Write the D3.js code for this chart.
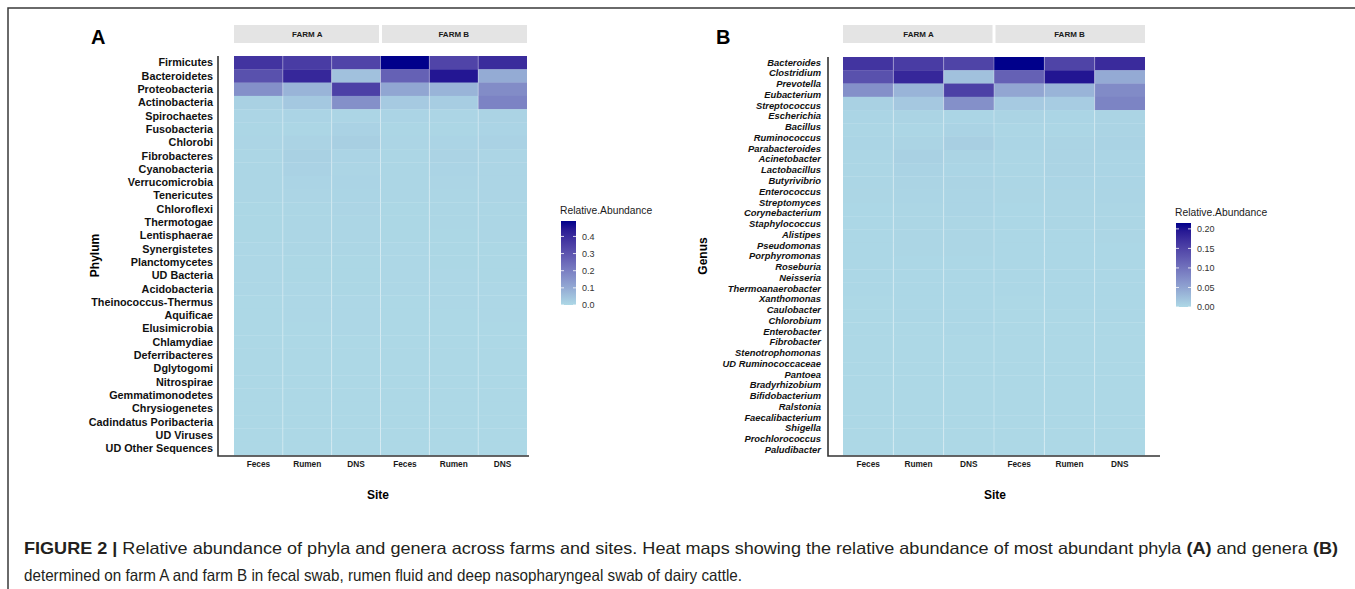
<!DOCTYPE html>
<html>
<head>
<meta charset="utf-8">
<script src="https://cdn.jsdelivr.net/npm/d3@7"></script>
<style>
  html, body { margin: 0; padding: 0; background: #fff; }
  svg text { font-family: "Liberation Sans", Arial, Helvetica, sans-serif; }
  svg text.caption { font-family: "Liberation Sans Narrow", "Liberation Sans", Arial, sans-serif; }
</style>
</head>
<body>
<div id="chart"></div>
<script>
// Columns: farm x site
const farms = ['FARM A', 'FARM B'];
const sites = ['Feces', 'Rumen', 'DNS'];

// Panel A rows (phyla), top to bottom
const phyla = [
  'Firmicutes', 'Bacteroidetes', 'Proteobacteria', 'Actinobacteria', 'Spirochaetes',
  'Fusobacteria', 'Chlorobi', 'Fibrobacteres', 'Cyanobacteria', 'Verrucomicrobia',
  'Tenericutes', 'Chloroflexi', 'Thermotogae', 'Lentisphaerae', 'Synergistetes',
  'Planctomycetes', 'UD Bacteria', 'Acidobacteria', 'Theinococcus-Thermus', 'Aquificae',
  'Elusimicrobia', 'Chlamydiae', 'Deferribacteres', 'Dglytogomi', 'Nitrospirae',
  'Gemmatimonodetes', 'Chrysiogenetes', 'Cadindatus Poribacteria', 'UD Viruses',
  'UD Other Sequences'
];

// Relative abundance per phylum: [A Feces, A Rumen, A DNS, B Feces, B Rumen, B DNS]
const phylumValues = [
  [0.38, 0.36, 0.34, 0.49, 0.34, 0.40],
  [0.31, 0.41, 0.05, 0.27, 0.45, 0.10],
  [0.16, 0.08, 0.35, 0.11, 0.08, 0.17],
  [0.015, 0.035, 0.16, 0.03, 0.025, 0.19],
  [0.006, 0.008, 0.006, 0.008, 0.006, 0.010],
  [0.004, 0.005, 0.012, 0.004, 0.004, 0.008],
  [0.006, 0.010, 0.020, 0.006, 0.008, 0.012],
  [0.005, 0.015, 0.008, 0.004, 0.010, 0.006],
  [0.004, 0.012, 0.006, 0.004, 0.008, 0.006],
  [0.004, 0.008, 0.008, 0.005, 0.006, 0.006],
  [0.004, 0.006, 0.007, 0.004, 0.005, 0.006],
  [0.003, 0.005, 0.006, 0.003, 0.004, 0.005],
  [0.003, 0.004, 0.005, 0.003, 0.004, 0.004],
  [0.003, 0.004, 0.004, 0.003, 0.003, 0.004],
  [0.002, 0.004, 0.004, 0.002, 0.003, 0.003],
  [0.002, 0.003, 0.003, 0.002, 0.003, 0.003],
  [0.002, 0.003, 0.003, 0.002, 0.002, 0.003],
  [0.002, 0.002, 0.003, 0.002, 0.002, 0.002],
  [0.001, 0.002, 0.002, 0.001, 0.002, 0.002],
  [0.001, 0.002, 0.002, 0.001, 0.001, 0.002],
  [0.001, 0.001, 0.002, 0.001, 0.001, 0.001],
  [0.001, 0.001, 0.001, 0.001, 0.001, 0.001],
  [0.001, 0.001, 0.001, 0.001, 0.001, 0.001],
  [0.001, 0.001, 0.001, 0.000, 0.001, 0.001],
  [0.000, 0.001, 0.001, 0.000, 0.000, 0.001],
  [0.000, 0.000, 0.001, 0.000, 0.000, 0.000],
  [0.000, 0.000, 0.000, 0.000, 0.000, 0.000],
  [0.000, 0.000, 0.000, 0.000, 0.000, 0.000],
  [0.000, 0.000, 0.000, 0.000, 0.000, 0.000],
  [0.000, 0.000, 0.000, 0.000, 0.000, 0.000]
];

// Panel B labels (genera), top to bottom
const genera = [
  'Bacteroides', 'Clostridium', 'Prevotella', 'Eubacterium', 'Streptococcus',
  'Escherichia', 'Bacillus', 'Ruminococcus', 'Parabacteroides', 'Acinetobacter',
  'Lactobacillus', 'Butyrivibrio', 'Enterococcus', 'Streptomyces', 'Corynebacterium',
  'Staphylococcus', 'Alistipes', 'Pseudomonas', 'Porphyromonas', 'Roseburia',
  'Neisseria', 'Thermoanaerobacter', 'Xanthomonas', 'Caulobacter', 'Chlorobium',
  'Enterobacter', 'Fibrobacter', 'Stenotrophomonas', 'UD Ruminococcaceae', 'Pantoea',
  'Bradyrhizobium', 'Bifidobacterium', 'Ralstonia', 'Faecalibacterium', 'Shigella',
  'Prochlorococcus', 'Paludibacter'
];

// Panel B tiles as printed (the tile grid has as many bands as panel A)
const genusTileValues = [
  [0.167, 0.158, 0.150, 0.215, 0.150, 0.176],
  [0.136, 0.180, 0.022, 0.119, 0.198, 0.044],
  [0.070, 0.035, 0.154, 0.048, 0.035, 0.075],
  [0.007, 0.015, 0.070, 0.013, 0.011, 0.083],
  [0.003, 0.004, 0.003, 0.004, 0.003, 0.004],
  [0.002, 0.002, 0.005, 0.002, 0.002, 0.004],
  [0.003, 0.004, 0.009, 0.003, 0.004, 0.005],
  [0.002, 0.007, 0.004, 0.002, 0.004, 0.003],
  [0.002, 0.005, 0.003, 0.002, 0.004, 0.003],
  [0.002, 0.004, 0.004, 0.002, 0.003, 0.003],
  [0.002, 0.003, 0.003, 0.002, 0.002, 0.003],
  [0.001, 0.002, 0.003, 0.001, 0.002, 0.002],
  [0.001, 0.002, 0.002, 0.001, 0.002, 0.002],
  [0.001, 0.002, 0.002, 0.001, 0.001, 0.002],
  [0.001, 0.002, 0.002, 0.001, 0.001, 0.001],
  [0.001, 0.001, 0.001, 0.001, 0.001, 0.001],
  [0.001, 0.001, 0.001, 0.001, 0.001, 0.001],
  [0.001, 0.001, 0.001, 0.001, 0.001, 0.001],
  [0.000, 0.001, 0.001, 0.000, 0.001, 0.001],
  [0.000, 0.001, 0.001, 0.000, 0.000, 0.001],
  [0.000, 0.000, 0.001, 0.000, 0.000, 0.000],
  [0.000, 0.000, 0.000, 0.000, 0.000, 0.000],
  [0.000, 0.000, 0.000, 0.000, 0.000, 0.000],
  [0.000, 0.000, 0.000, 0.000, 0.000, 0.000],
  [0.000, 0.000, 0.000, 0.000, 0.000, 0.000],
  [0.000, 0.000, 0.000, 0.000, 0.000, 0.000],
  [0.000, 0.000, 0.000, 0.000, 0.000, 0.000],
  [0.000, 0.000, 0.000, 0.000, 0.000, 0.000],
  [0.000, 0.000, 0.000, 0.000, 0.000, 0.000],
  [0.000, 0.000, 0.000, 0.000, 0.000, 0.000]
];

const phylumLegendTicks = [0, 0.1, 0.2, 0.3, 0.4];
const genusLegendTicks = [0, 0.05, 0.10, 0.15, 0.20];

const W = 1355, H = 589;
const svg = d3.select('#chart').append('svg')
  .attr('width', W)
  .attr('height', H);

svg.append('rect').attr('width', W).attr('height', H).attr('fill', '#fff');

// Frame (top and left rule)
svg.append('path')
  .attr('d', `M8,${H} V8 H${W}`)
  .attr('fill', 'none')
  .attr('stroke', '#3a3a3a')
  .attr('stroke-width', 1.5);

const columns = [];
farms.forEach(f => sites.forEach(s => columns.push(f + '|' + s)));

function drawPanel(opts) {
  const { letter, letterX, heat, axisX, axisXEnd, labels, values, vmax,
          labelX, italic, labelSize, yTitle, yTitleX, siteX, legend, legendTicks, legendFmt } = opts;

  const g = svg.append('g');

  const x = d3.scaleBand().domain(columns).range([heat.x0, heat.x1]);
  const yTile = d3.scaleBand().domain(d3.range(values.length)).range([heat.y0, heat.y1]);
  const yLab = d3.scaleBand().domain(labels).range([heat.y0, heat.y1]);

  const color = d3.scaleLinear()
    .domain([0, vmax])
    .range(['#add8e6', '#00008b'])
    .interpolate(d3.interpolateLab)
    .clamp(true);

  // panel letter
  g.append('text')
    .attr('x', letterX).attr('y', 44)
    .attr('font-size', 20).attr('font-weight', 'bold')
    .attr('fill', '#000')
    .text(letter);

  // facet strips
  farms.forEach(f => {
    const xs = x(f + '|' + sites[0]);
    const xe = x(f + '|' + sites[sites.length - 1]) + x.bandwidth();
    g.append('rect')
      .attr('x', xs + (f === farms[1] ? 1.5 : 0))
      .attr('y', 25)
      .attr('width', xe - xs - 1.5)
      .attr('height', 18)
      .attr('fill', '#e4e4e4');
    g.append('text')
      .attr('x', (xs + xe) / 2).attr('y', 37)
      .attr('text-anchor', 'middle')
      .attr('font-size', 8).attr('font-weight', 'bold')
      .attr('fill', '#1a1a1a')
      .text(f);
  });

  // tiles
  const cells = [];
  values.forEach((row, i) => row.forEach((v, j) => cells.push({ i, col: columns[j], v })));
  g.append('g').selectAll('rect')
    .data(cells)
    .enter().append('rect')
    .attr('x', d => x(d.col))
    .attr('y', d => yTile(d.i))
    .attr('width', x.bandwidth())
    .attr('height', yTile.bandwidth() + 0.3)
    .attr('fill', d => color(d.v));

  // faint column separators
  g.append('g').selectAll('line')
    .data(columns.slice(1))
    .enter().append('line')
    .attr('x1', d => x(d)).attr('x2', d => x(d))
    .attr('y1', heat.y0).attr('y2', heat.y1)
    .attr('stroke', 'rgba(255,255,255,0.4)')
    .attr('stroke-width', 0.8);

  // axis lines
  g.append('path')
    .attr('d', `M${axisX},${heat.y0} V${heat.y1 + 1} H${axisXEnd}`)
    .attr('fill', 'none')
    .attr('stroke', '#333')
    .attr('stroke-width', 1.6);

  // row labels
  g.append('g').selectAll('text')
    .data(labels)
    .enter().append('text')
    .attr('x', labelX)
    .attr('y', d => yLab(d) + yLab.bandwidth() / 2)
    .attr('dy', '0.35em')
    .attr('text-anchor', 'end')
    .attr('font-size', labelSize)
    .attr('font-weight', 'bold')
    .attr('font-style', italic ? 'italic' : 'normal')
    .attr('fill', '#111')
    .text(d => d);

  // x tick labels
  g.append('g').selectAll('text')
    .data(columns)
    .enter().append('text')
    .attr('x', d => x(d) + x.bandwidth() / 2)
    .attr('y', heat.y1 + 12)
    .attr('text-anchor', 'middle')
    .attr('font-size', 8.3).attr('font-weight', 'bold')
    .attr('fill', '#1a1a1a')
    .text(d => d.split('|')[1]);

  // axis titles
  g.append('text')
    .attr('transform', `translate(${yTitleX},${(heat.y0 + heat.y1) / 2}) rotate(-90)`)
    .attr('text-anchor', 'middle')
    .attr('font-size', 12).attr('font-weight', 'bold')
    .attr('fill', '#000')
    .text(yTitle);

  g.append('text')
    .attr('x', siteX).attr('y', 499)
    .attr('text-anchor', 'middle')
    .attr('font-size', 12).attr('font-weight', 'bold')
    .attr('fill', '#000')
    .text('Site');

  // colour bar legend
  const lg = g.append('g');
  lg.append('text')
    .attr('x', legend.x - 1).attr('y', legend.top - 7)
    .attr('font-size', 10.3)
    .attr('fill', '#1a1a1a')
    .text('Relative.Abundance');

  const gradId = 'grad' + letter;
  const grad = svg.append('defs').append('linearGradient')
    .attr('id', gradId)
    .attr('x1', 0).attr('y1', 1).attr('x2', 0).attr('y2', 0);
  d3.range(0, 1.0001, 0.1).forEach(t => {
    grad.append('stop')
      .attr('offset', t)
      .attr('stop-color', color(t * vmax));
  });

  const ly = d3.scaleLinear().domain([0, vmax]).range([legend.bottom, legend.top]);
  lg.append('rect')
    .attr('x', legend.x).attr('y', legend.top)
    .attr('width', legend.w).attr('height', legend.bottom - legend.top)
    .attr('fill', `url(#${gradId})`);

  lg.selectAll('.tk')
    .data(legendTicks)
    .enter().append('g')
    .each(function (d) {
      const t = d3.select(this);
      const yy = ly(d);
      t.append('line')
        .attr('x1', legend.x).attr('x2', legend.x + 3)
        .attr('y1', yy).attr('y2', yy)
        .attr('stroke', 'rgba(255,255,255,0.8)');
      t.append('line')
        .attr('x1', legend.x + legend.w - 3).attr('x2', legend.x + legend.w)
        .attr('y1', yy).attr('y2', yy)
        .attr('stroke', 'rgba(255,255,255,0.8)');
      t.append('text')
        .attr('x', legend.x + legend.w + 6)
        .attr('y', yy)
        .attr('dy', '0.35em')
        .attr('font-size', 9)
        .attr('fill', '#333')
        .text(legendFmt(d));
    });
}

drawPanel({
  letter: 'A', letterX: 91,
  heat: { x0: 234, x1: 527, y0: 56, y1: 455 },
  axisX: 218, axisXEnd: 529,
  labels: phyla, values: phylumValues, vmax: 0.49,
  labelX: 213, italic: false, labelSize: 10.8,
  yTitle: 'Phylum', yTitleX: 99, siteX: 378,
  legend: { x: 561, w: 15, top: 221, bottom: 305 },
  legendTicks: phylumLegendTicks, legendFmt: d3.format('.1f')
});

drawPanel({
  letter: 'B', letterX: 716,
  heat: { x0: 843, x1: 1145, y0: 57, y1: 455 },
  axisX: 828, axisXEnd: 1160,
  labels: genera, values: genusTileValues, vmax: 0.215,
  labelX: 821, italic: true, labelSize: 9.4,
  yTitle: 'Genus', yTitleX: 707, siteX: 995,
  legend: { x: 1176, w: 15, top: 223, bottom: 307 },
  legendTicks: genusLegendTicks, legendFmt: d3.format('.2f')
});

// Caption
const cap1 = svg.append('text')
  .attr('class', 'caption')
  .attr('x', 24).attr('y', 554)
  .attr('font-size', 16.5)
  .attr('fill', '#231f20')
  .attr('textLength', 1314)
  .attr('lengthAdjust', 'spacingAndGlyphs');
cap1.append('tspan').attr('font-weight', 'bold').text('FIGURE 2 | ');
cap1.append('tspan').text('Relative abundance of phyla and genera across farms and sites. Heat maps showing the relative abundance of most abundant phyla ');
cap1.append('tspan').attr('font-weight', 'bold').text('(A)');
cap1.append('tspan').text(' and genera ');
cap1.append('tspan').attr('font-weight', 'bold').text('(B)');

svg.append('text')
  .attr('class', 'caption')
  .attr('x', 24).attr('y', 581)
  .attr('font-size', 16.5)
  .attr('fill', '#231f20')
  .attr('textLength', 718)
  .attr('lengthAdjust', 'spacingAndGlyphs')
  .text('determined on farm A and farm B in fecal swab, rumen fluid and deep nasopharyngeal swab of dairy cattle.');
</script>
</body>
</html>
